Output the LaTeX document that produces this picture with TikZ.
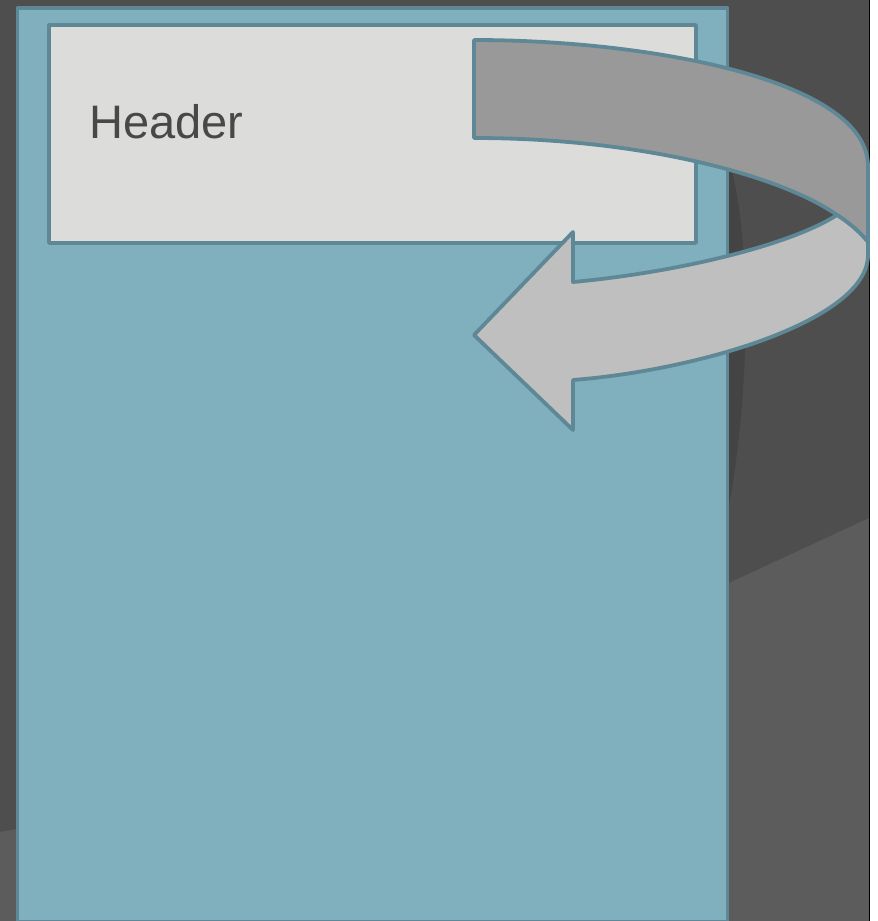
\documentclass[tikz,border=0pt]{standalone}
\usepackage{fontspec}
\setmainfont{Liberation Sans}
\definecolor{bgdark}{HTML}{4E4E4E}
\definecolor{bglight}{HTML}{5C5C5C}
\definecolor{bgshadow}{HTML}{444444}
\definecolor{panelfill}{HTML}{80AFBE}
\definecolor{edgeblue}{HTML}{5F8896}
\definecolor{headfill}{HTML}{DCDCDB}
\definecolor{banddark}{HTML}{999999}
\definecolor{bandlight}{HTML}{BFBFBF}
\definecolor{textgray}{HTML}{484848}
\tikzset{
  outlined/.style={draw=edgeblue, line width=3.8pt, line join=round},
  headtext/.style={font=\fontsize{47}{50}\selectfont, text=textgray, inner sep=0pt, anchor=base west}
}
\begin{document}
\begin{tikzpicture}[x=1pt,y=-1pt]
\useasboundingbox (0,0) rectangle (878,921);
% background
\fill[white] (0,0) rectangle (878,921);
\fill[bgdark] (0,0) rectangle (869,921);
\fill[bglight] (729,583) -- (869,518) -- (869,921) -- (729,921) -- cycle;
\fill[bglight] (0,832) -- (17,829) -- (17,921) -- (0,921) -- cycle;
\fill[bgshadow] (729,160) .. controls (750,230) and (752,380) .. (729,505) -- cycle;
\draw[black, line width=1pt] (869.5,0) -- (869.5,921);
% panel
\path[outlined, fill=panelfill] (17.5,8) rectangle (727.5,922);
% header box
\path[outlined, fill=headfill] (49,25) rectangle (696,243);
\node[headtext] (header) at (89,138) {Header};
% arrow: back band
\path[outlined, fill=banddark] (474,40) .. controls (650,40) and (866,80) .. (868,165)
  -- (868,242) .. controls (860,232) and (848,222) .. (837,215)
  .. controls (780,175) and (640,138) .. (474,138) -- cycle;
% arrow: front band with head
\path[outlined, fill=bandlight] (573,282) .. controls (680,272) and (790,245) .. (837,215)
  .. controls (848,222) and (860,232) .. (868,242) -- (868,255)
  .. controls (868,320) and (700,370) .. (573,380)
  -- (573,430) -- (474,335) -- (573,232) -- cycle;
\end{tikzpicture}
\end{document}
